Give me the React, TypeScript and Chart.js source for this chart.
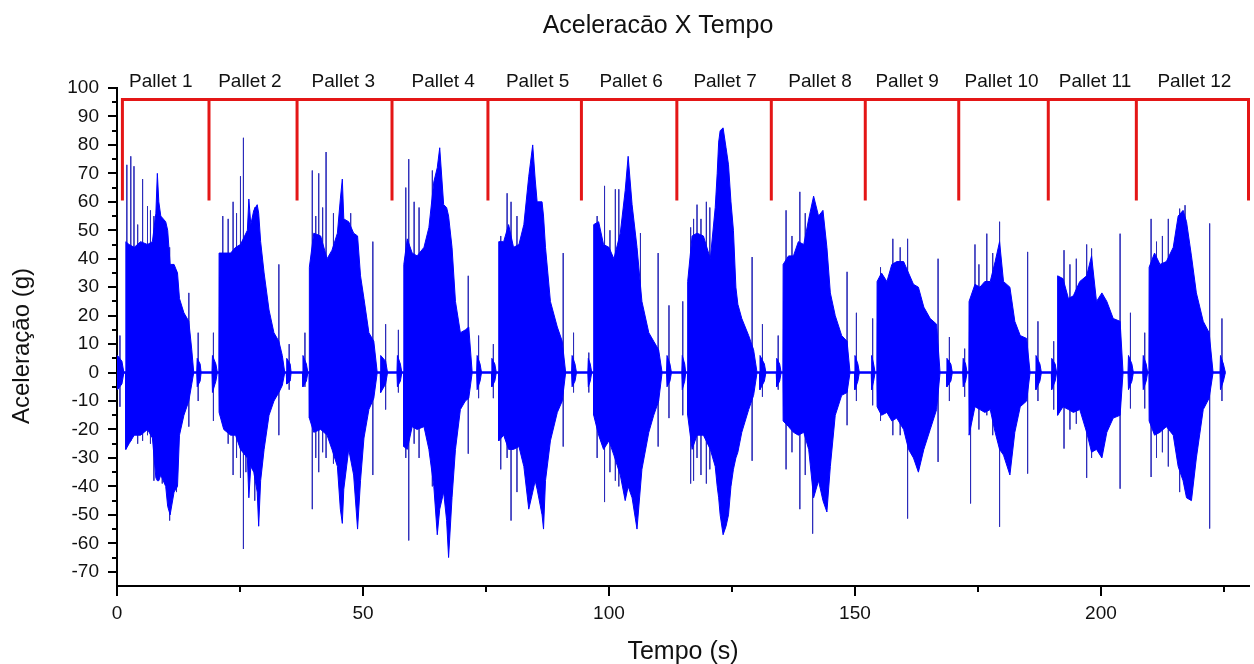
import React, { useEffect, useRef } from 'react';
import { Chart, registerables } from 'chart.js';

Chart.register(...registerables);

// ---------- texts ----------
const chartTitle = 'Aceleracāo X Tempo';
const xAxisTitle = 'Tempo (s)';
const yAxisTitle = 'Aceleraçāo (g)';
const palletLabels = [
  'Pallet 1', 'Pallet 2', 'Pallet 3', 'Pallet 4', 'Pallet 5', 'Pallet 6',
  'Pallet 7', 'Pallet 8', 'Pallet 9', 'Pallet 10', 'Pallet 11', 'Pallet 12',
];
// label centre positions (s)
const palletLabelTimes = [8.9, 27.0, 46.0, 66.3, 85.5, 104.5, 123.6, 142.9, 160.6, 179.8, 198.8, 219.0];

// ---------- axes ----------
const xMin = 0;
const xMax = 230.1;
const yMin = -75;
const yMax = 100;
const xTickValues = [0, 50, 100, 150, 200];
const xMinorTickValues = [25, 75, 125, 175, 225];
const yTickValues = [-70, -60, -50, -40, -30, -20, -10, 0, 10, 20, 30, 40, 50, 60, 70, 80, 90, 100];
const yMinorTickValues = [-65, -55, -45, -35, -25, -15, -5, 5, 15, 25, 35, 45, 55, 65, 75, 85, 95];

// ---------- pallet bracket (time in s, acceleration in g) ----------
const palletBounds = [1.1, 18.7, 36.6, 55.9, 75.4, 94.4, 113.8, 133.0, 152.1, 171.1, 189.3, 207.2, 230.0];
const bracketTop = 96;
const bracketBottom = 61;

// ---------- signal envelope: [time (s), upper (g), lower (g)] ----------
const envelope: [number, number, number][] = [
  [0, 0, 0], [0.05, 0, 0], [0.15, 6, -6], [1.0, 4, -4], [1.4, 0, 0],
  // pallet 1
  [1.75, 0, 0], [1.8, 46, -27], [2.45, 45, -25], [3.5, 44, -22], [4.8, 46, -22], [6.2, 45, -20],
  [7.2, 46, -23], [7.9, 56, -37], [8.2, 70, -38], [8.5, 60, -38], [8.9, 55, -36], [9.9, 53, -40],
  [10.3, 50, -47], [10.8, 38, -50], [11.6, 38, -42], [12.3, 35, -40], [12.7, 26, -22], [13.6, 21, -15],
  [14.6, 18, -10], [15.2, 8, -4], [15.6, 0, 0],
  [16.2, 0, 0], [16.3, 5, -5], [16.9, 3, -3], [17.1, 0, 0],
  [19.3, 0, 0], [19.4, 6, -7], [20.1, 3, -3], [20.4, 0, 0],
  // pallet 2
  [20.7, 0, 0], [20.75, 42, -14], [21.7, 42, -20], [23.1, 42, -22], [24.1, 44, -22], [25.1, 45, -27],
  [26.5, 50, -30], [26.8, 61, -44], [27.2, 52, -33], [27.8, 57, -35], [28.5, 59, -42], [28.8, 56, -54],
  [29.2, 46, -38], [29.9, 35, -27], [30.9, 22, -15], [31.9, 14, -10], [32.9, 11, -7], [33.6, 6, -4.5],
  [34.1, 0, 0],
  [34.4, 0, 0], [34.5, 5, -4], [35.2, 3, -3], [35.4, 0, 0],
  [37.7, 0, 0], [37.8, 6, -5], [38.5, 3, -3], [38.8, 0, 0],
  // pallet 3
  [39.05, 0, 0], [39.1, 37, -16], [40, 49, -21], [41.4, 48, -20], [42.7, 40, -22], [43.7, 43, -27],
  [44.8, 49, -33], [45.4, 61, -48], [45.8, 68, -53], [46.1, 54, -41], [47.1, 53, -27], [48.1, 49, -36],
  [48.9, 48, -55], [49.5, 34, -38], [50.2, 26, -23], [51.2, 14, -13], [52.2, 11, -9], [52.9, 0, 0],
  [53.5, 0, 0], [53.6, 6, -7], [54.6, 4, -4], [55, 0, 0],
  [56.9, 0, 0], [57.0, 6, -5], [57.6, 3, -3], [57.9, 0, 0],
  // pallet 4
  [58.25, 0, 0], [58.3, 38, -26], [59, 47, -27], [60, 42, -19], [61, 41, -20], [62.4, 44, -19],
  [63.4, 51, -27], [64.4, 67, -40], [65.1, 72, -57], [65.6, 79, -48], [66.4, 59, -42], [67.0, 58, -52],
  [67.4, 55, -65], [68.1, 44, -44], [68.8, 25, -27], [69.8, 14, -13], [70.8, 15, -10], [71.5, 16, -9],
  [72.2, 0, 0],
  [73.1, 0, 0], [73.2, 6, -6], [73.8, 3, -3], [74.1, 0, 0],
  [76.1, 0, 0], [76.2, 5, -5], [76.8, 3, -3], [77.1, 0, 0],
  // pallet 5
  [77.55, 0, 0], [77.6, 46, -24], [78.6, 46, -22], [79.6, 52, -27], [80.6, 44, -27], [81.7, 45, -26],
  [82.7, 52, -33], [83.7, 69, -48], [84.5, 80, -42], [85.0, 68, -38], [85.4, 60, -41], [86.4, 60, -50],
  [86.7, 55, -55], [87.1, 44, -38], [88.1, 25, -24], [89.5, 16, -14], [90.5, 11, -10], [91.2, 0, 0],
  [92.4, 0, 0], [92.5, 6, -5], [93.1, 3, -3], [93.4, 0, 0],
  [95.7, 0, 0], [95.8, 5, -5], [96.2, 3, -3], [96.5, 0, 0],
  // pallet 6
  [96.85, 0, 0], [96.9, 52, -15], [97.9, 53, -22], [98.9, 45, -27], [100, 44, -24], [101, 40, -29],
  [102.3, 49, -36], [103.3, 64, -45], [103.9, 76, -40], [104.7, 59, -44], [105.7, 44, -55], [106.7, 25, -34],
  [108.1, 14, -21], [109.1, 11, -15], [110.1, 8, -10], [110.8, 0, 0],
  [111.7, 0, 0], [111.8, 6, -5], [112.4, 3, -3], [112.7, 0, 0],
  [114.8, 0, 0], [114.9, 6, -6], [115.4, 3, -3], [115.6, 0, 0],
  // pallet 7
  [115.95, 0, 0], [116.0, 32, -15], [116.9, 48, -27], [117.9, 49, -22], [119.2, 48, -22], [120.6, 40, -27],
  [121.6, 58, -33], [122.0, 70, -40], [122.3, 81, -44], [122.6, 85, -50], [123.2, 86, -57], [123.8, 79, -54],
  [124.3, 73, -50], [124.8, 60, -40], [125.3, 50, -34], [125.8, 30, -30], [126.2, 24, -28], [127, 19, -21],
  [128.4, 13, -13], [129.4, 8, -8], [130.1, 0, 0],
  [130.6, 0, 0], [130.7, 6, -6], [131.6, 3, -3], [131.9, 0, 0],
  [134.0, 0, 0], [134.1, 5, -5], [134.7, 3, -3], [135.0, 0, 0],
  // pallet 8
  [135.35, 0, 0], [135.4, 38, -17], [136.5, 41, -19], [137.5, 41, -21], [138.5, 46, -22], [139.6, 45, -21],
  [140.6, 54, -27], [141.6, 62, -44], [142.6, 55, -38], [143.5, 57, -45], [144.3, 44, -49], [145, 28, -33],
  [146, 20, -15], [147.3, 13, -8], [148.4, 11, -7], [149, 0, 0],
  [149.9, 0, 0], [150, 6, -6], [150.6, 3, -3], [150.9, 0, 0],
  [153.3, 0, 0], [153.4, 6, -6], [153.8, 3, -3], [154.1, 0, 0],
  // pallet 9
  [154.45, 0, 0], [154.5, 32, -12], [155.4, 35, -15], [156.5, 32, -14], [157.5, 38, -17], [158.5, 39, -16],
  [159.9, 39, -20], [160.9, 35, -27], [161.9, 31, -30], [162.9, 30, -35], [164, 23, -27], [165.3, 19, -20],
  [166.6, 17, -13], [167.3, 0, 0],
  [168.6, 0, 0], [168.7, 5, -5], [169.5, 3, -3], [169.8, 0, 0],
  [171.9, 0, 0], [172.0, 5, -5], [172.5, 3, -3], [172.8, 0, 0],
  // pallet 10
  [173.15, 0, 0], [173.2, 25, -22], [174.4, 31, -12], [175.4, 30, -13], [176.4, 32, -14], [177.5, 32, -13],
  [178.5, 39, -21], [179.4, 46, -27], [180.2, 32, -29], [181.5, 30, -36], [182.5, 18, -21], [183.6, 13, -12],
  [184.9, 12, -10], [185.6, 0, 0],
  [186.7, 0, 0], [186.8, 6, -6], [187.6, 3, -3], [187.9, 0, 0],
  [189.9, 0, 0], [190.0, 5, -6], [190.7, 3, -3], [191.0, 0, 0],
  // pallet 11
  [191.15, 0, 0], [191.2, 34, -15], [192.3, 33, -12], [193.4, 26, -13], [194.4, 27, -14], [195.7, 32, -13],
  [197.1, 34, -21], [198.1, 41, -28], [199.1, 25, -27], [200.2, 28, -30], [201.2, 25, -21], [202.5, 19, -16],
  [203.9, 18, -15], [204.5, 0, 0],
  [205.5, 0, 0], [205.6, 6, -6], [206.3, 3, -3], [206.6, 0, 0],
  [208.5, 0, 0], [208.6, 6, -6], [209.2, 3, -3], [209.5, 0, 0],
  // pallet 12
  [209.75, 0, 0], [209.8, 37, -17], [210.9, 42, -22], [212, 38, -21], [213.3, 39, -19], [214.7, 44, -22],
  [215.7, 55, -33], [216.7, 57, -38], [217.4, 53, -44], [218.4, 41, -45], [219.4, 28, -30], [220.8, 18, -13],
  [222, 14, -9], [222.8, 0, 0],
  [224.2, 0, 0], [224.3, 6, -6], [224.9, 3, -3], [225.3, 0, 0],
];

// ---------- isolated spikes: [time (s), peak (g), trough (g)] ----------
const spikes: [number, number, number][] = [
  [0.6, 13, -12],
  [2.0, 73, -26], [2.8, 76, -24], [3.45, 72.5, -22], [4.2, 52, -25], [5.2, 68, -24], [6.2, 58.5, -22],
  [6.8, 57, -25], [7.5, 55, -38], [9.2, 50, -39], [10.7, 44, -52], [12.1, 36, -42], [14.6, 28, -19],
  [16.5, 14, -10], [19.6, 14, -17],
  [21.5, 55, -18], [22.6, 54, -25], [23.6, 60, -36], [24.3, 56, -30], [25.1, 69, -37], [25.7, 82.5, -62],
  [26.2, 45, -35], [28.0, 58, -45], [32.9, 38, -22],
  [35.0, 10, -6], [38.2, 14, -5],
  [39.7, 71, -48], [40.4, 55, -30], [41.0, 70, -35], [41.8, 58, -28], [42.5, 77.5, -30], [44.0, 56, -32],
  [47.5, 56, -30], [52.0, 46, -36],
  [54.6, 17, -13], [57.2, 15, -7],
  [58.7, 65, -30], [59.3, 75, -59], [60.4, 60, -25], [61.4, 58, -30], [64.1, 71, -40], [71.4, 34, -28.5],
  [73.5, 13, -9], [76.5, 10, -9],
  [78.0, 48, -34], [79.3, 63, -30], [80.1, 60, -52], [81.3, 55, -42], [83.3, 58, -38], [90.7, 42, -26],
  [92.8, 14, -7], [95.9, 7, -7],
  [97.6, 55, -30], [99.1, 65.6, -45.5], [100.2, 50, -35], [101.3, 64.4, -38], [102.0, 64.4, -40],
  [106.4, 49, -30], [110.0, 42, -26],
  [112.2, 23.6, -16], [115.0, 25, -15],
  [116.6, 51, -39], [117.2, 54, -38], [117.9, 59, -30], [118.7, 54, -36], [119.8, 60, -39], [120.5, 58, -34],
  [129.1, 40.6, -31],
  [131.2, 17, -8.5], [134.4, 13, -6],
  [136.0, 57, -34], [137.2, 48, -28], [138.8, 63.5, -48], [139.9, 56, -36], [141.4, 50, -56.6], [148.4, 35.4, -18.5],
  [150.3, 21, -10], [153.6, 19, -11.5],
  [155.2, 37, -17], [157.7, 47, -22], [159.2, 44, -22], [160.7, 47, -51.3], [166.9, 40, -31.4],
  [169.2, 12.5, -10], [172.3, 8.4, -8.5],
  [173.5, 25, -46], [174.4, 45, -12], [175.2, 38, -20], [176.8, 48.8, -15], [178.0, 42, -22], [179.4, 53, -54.2],
  [185.1, 42.4, -35.5],
  [187.2, 18, -10], [190.4, 11, -13],
  [192.5, 43, -26.7], [193.7, 38, -20], [195.0, 40, -18], [197.1, 45, -37], [198.1, 43.6, -30], [203.9, 48.8, -40.8],
  [206.0, 21, -12.6], [208.9, 14, -12.6],
  [210.2, 54, -36.7], [211.3, 46, -30], [212.5, 48, -28], [213.7, 54, -33], [216.0, 57.6, -42], [217.1, 58.8, -40],
  [222.1, 52.4, -54.8],
  [224.6, 19, -10],
];

const FONT = "'Liberation Sans', Arial, Helvetica, sans-serif";
const BLUE = 'rgb(0,0,255)';
const RED = 'rgb(228,22,22)';

const overlayPlugin = {
  id: 'overlay',
  afterDraw(chart: any) {
    const { ctx, chartArea } = chart;
    const xs = chart.scales.x;
    const ys = chart.scales.y;
    ctx.save();
    ctx.strokeStyle = '#000';
    ctx.lineWidth = 2;
    ctx.beginPath();
    // y tick marks
    ys.ticks.forEach((t: any) => {
      const py = Math.round(ys.getPixelForValue(t.value));
      ctx.moveTo(chartArea.left - 9, py);
      ctx.lineTo(chartArea.left, py);
    });
    yMinorTickValues.forEach((v: number) => {
      const py = Math.round(ys.getPixelForValue(v));
      ctx.moveTo(chartArea.left - 5, py);
      ctx.lineTo(chartArea.left, py);
    });
    // x tick marks
    xs.ticks.forEach((t: any) => {
      const px = Math.round(xs.getPixelForValue(t.value));
      ctx.moveTo(px, chartArea.bottom);
      ctx.lineTo(px, chartArea.bottom + 10);
    });
    xMinorTickValues.forEach((v: number) => {
      const px = Math.round(xs.getPixelForValue(v));
      ctx.moveTo(px, chartArea.bottom);
      ctx.lineTo(px, chartArea.bottom + 6);
    });
    ctx.stroke();

    // pallet labels
    ctx.fillStyle = '#111';
    ctx.font = `19px ${FONT}`;
    ctx.textAlign = 'center';
    ctx.textBaseline = 'alphabetic';
    palletLabels.forEach((lab, i) => {
      ctx.fillText(lab, xs.getPixelForValue(palletLabelTimes[i]), chartArea.top - 1);
    });

    // title
    ctx.font = `25px ${FONT}`;
    ctx.fillText(chartTitle, 658, 33);

    // x axis title
    ctx.fillText(xAxisTitle, (chartArea.left + chartArea.right) / 2, 659);

    // y axis title
    ctx.font = `24px ${FONT}`;
    ctx.translate(29, 346);
    ctx.rotate(-Math.PI / 2);
    ctx.fillText(yAxisTitle, 0, 0);
    ctx.restore();
  },
};

export default function App() {
  const ref = useRef<HTMLCanvasElement>(null);
  useEffect(() => {
    document.body.style.margin = '0';
    const canvas = ref.current;
    if (!canvas) return;

    const spikePoints: any[] = [];
    spikes.forEach(([t, hi, lo]) => {
      spikePoints.push({ x: t, y: hi }, { x: t, y: lo }, { x: t, y: null });
    });

    const bracketPoints: any[] = [
      { x: palletBounds[0], y: bracketTop },
      { x: palletBounds[palletBounds.length - 1], y: bracketTop },
      { x: palletBounds[palletBounds.length - 1], y: null },
    ];
    palletBounds.forEach((b) => {
      bracketPoints.push({ x: b, y: bracketTop }, { x: b, y: bracketBottom }, { x: b, y: null });
    });

    const first = envelope[0][0];
    const last = envelope[envelope.length - 1][0];

    const chart = new Chart(canvas, {
      type: 'line',
      data: {
        datasets: [
          {
            label: 'pallets',
            data: bracketPoints,
            borderColor: RED,
            borderWidth: 3,
            pointRadius: 0,
            spanGaps: false,
            clip: false as any,
            borderCapStyle: 'square',
            fill: false,
          },
          {
            label: 'upper',
            data: envelope.map(([t, hi]) => ({ x: t, y: hi })),
            borderColor: BLUE,
            backgroundColor: BLUE,
            borderWidth: 1,
            pointRadius: 0,
            fill: '+1',
          },
          {
            label: 'lower',
            data: envelope.map(([t, , lo]) => ({ x: t, y: lo })),
            borderColor: BLUE,
            backgroundColor: BLUE,
            borderWidth: 1,
            pointRadius: 0,
            fill: false,
          },
          {
            label: 'spikes',
            data: spikePoints,
            borderColor: 'rgba(40,40,185,0.8)',
            borderWidth: 1,
            pointRadius: 0,
            spanGaps: false,
            fill: false,
          },
          {
            label: 'baseline',
            data: [{ x: first, y: 0 }, { x: last, y: 0 }],
            borderColor: BLUE,
            borderWidth: 2.5,
            pointRadius: 0,
            fill: false,
          },
        ],
      },
      options: {
        responsive: false,
        animation: false,
        devicePixelRatio: 1,
        layout: { padding: { top: 88, right: 5, left: 0, bottom: 0 } },
        plugins: {
          legend: { display: false },
          tooltip: { enabled: false },
          title: { display: false },
        },
        elements: { line: { tension: 0 } },
        scales: {
          x: {
            type: 'linear',
            min: xMin,
            max: xMax,
            bounds: 'data',
            grid: { display: false, drawTicks: false },
            border: { display: true, color: '#000', width: 2 },
            ticks: {
              padding: 16,
              color: '#111',
              font: { family: FONT, size: 19 },
              maxRotation: 0,
              autoSkip: false,
            },
            afterBuildTicks: (scale: any) => {
              scale.ticks = xTickValues.map((v) => ({ value: v }));
            },
            afterFit: (scale: any) => {
              scale.height = 78;
            },
          },
          y: {
            type: 'linear',
            min: yMin,
            max: yMax,
            bounds: 'data',
            grid: { display: false, drawTicks: false },
            border: { display: true, color: '#000', width: 2 },
            ticks: {
              padding: 18,
              color: '#111',
              font: { family: FONT, size: 19 },
              autoSkip: false,
            },
            afterBuildTicks: (scale: any) => {
              scale.ticks = yTickValues.map((v) => ({ value: v }));
            },
            afterFit: (scale: any) => {
              scale.width = 117;
            },
          },
        },
      },
      plugins: [overlayPlugin],
    } as any);
    return () => chart.destroy();
  }, []);

  return (
    <div style={{ width: 1254, height: 664 }}>
      <canvas ref={ref} width={1254} height={664} style={{ display: 'block' }} />
    </div>
  );
}
